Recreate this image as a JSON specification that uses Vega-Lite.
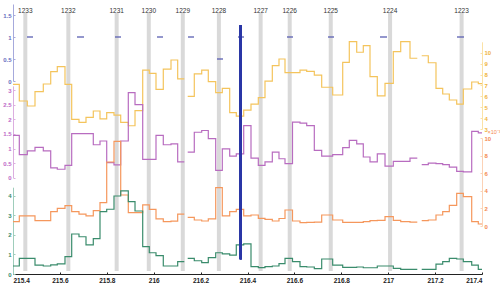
{
  "$schema": "https://vega.github.io/schema/vega-lite/v6.json",
  "width": 469,
  "height": 258,
  "autosize": "none",
  "padding": {"left": 13, "top": 13, "right": 18, "bottom": 15},
  "background": "white",
  "config": {
    "view": {"stroke": null},
    "font": "Liberation Sans",
    "axis": {"grid": false, "labelFont": "Liberation Sans", "labelFontSize": 6, "labelFontWeight": "bold", "tickSize": -2, "labelPadding": 4, "domainWidth": 1, "tickWidth": 1, "format": "~f", "title": null}
  },
  "datasets": {
    "series": [
      {"x": 215.4, "seg": 1, "yel": 7.10, "mag": 1.45, "ora": 0.49, "grn": 0.41},
      {"x": 215.4269, "seg": 1, "yel": 5.57, "mag": 0.79, "ora": 1.14, "grn": 0.80},
      {"x": 215.4610, "seg": 1, "yel": 5.11, "mag": 0.92, "ora": 1.14, "grn": 0.80},
      {"x": 215.4938, "seg": 1, "yel": 6.42, "mag": 1.04, "ora": 0.61, "grn": 0.46},
      {"x": 215.5292, "seg": 1, "yel": 7.13, "mag": 0.92, "ora": 0.61, "grn": 0.41},
      {"x": 215.5608, "seg": 1, "yel": 8.26, "mag": 0.34, "ora": 1.63, "grn": 0.47},
      {"x": 215.5889, "seg": 1, "yel": 8.72, "mag": 0.29, "ora": 2.00, "grn": 0.52},
      {"x": 215.6217, "seg": 1, "yel": 7.10, "mag": 0.42, "ora": 2.31, "grn": 0.89},
      {"x": 215.6503, "seg": 1, "yel": 3.89, "mag": 1.51, "ora": 1.63, "grn": 2.05},
      {"x": 215.6814, "seg": 1, "yel": 3.61, "mag": 1.51, "ora": 1.36, "grn": 1.91},
      {"x": 215.7113, "seg": 1, "yel": 4.07, "mag": 1.51, "ora": 1.14, "grn": 1.49},
      {"x": 215.7424, "seg": 1, "yel": 4.65, "mag": 1.13, "ora": 1.74, "grn": 1.81},
      {"x": 215.7710, "seg": 1, "yel": 3.92, "mag": 1.26, "ora": 2.65, "grn": 3.20},
      {"x": 215.7996, "seg": 1, "yel": 4.50, "mag": 0.52, "ora": 7.27, "grn": 3.32},
      {"x": 215.8307, "seg": 1, "yel": 4.28, "mag": 0.44, "ora": 9.62, "grn": 4.00},
      {"x": 215.8593, "seg": 1, "yel": 3.61, "mag": 1.26, "ora": 3.52, "grn": 4.26},
      {"x": 215.8917, "seg": 1, "yel": 3.30, "mag": 2.92, "ora": 1.51, "grn": 3.71},
      {"x": 215.9203, "seg": 1, "yel": 4.68, "mag": 2.51, "ora": 1.51, "grn": 3.23},
      {"x": 215.9531, "seg": 1, "yel": 8.41, "mag": 0.63, "ora": 2.39, "grn": 1.40},
      {"x": 215.9812, "seg": 1, "yel": 8.11, "mag": 0.63, "ora": 1.89, "grn": 1.09},
      {"x": 216.0098, "seg": 1, "yel": 6.64, "mag": 1.45, "ora": 0.80, "grn": 0.94},
      {"x": 216.0409, "seg": 1, "yel": 8.50, "mag": 1.13, "ora": 0.49, "grn": 0.41},
      {"x": 216.0738, "seg": 1, "yel": 9.33, "mag": 1.16, "ora": 0.55, "grn": 0.41},
      {"x": 216.1023, "seg": 1, "yel": 7.59, "mag": 0.54, "ora": 1.36, "grn": 0.63},
      {"x": 216.1305, "seg": 1, "yel": 7.59, "mag": 0.54, "ora": 1.36, "grn": 0.63},
      {"x": 216.1450, "seg": 2, "yel": 6.00, "mag": 0.88, "ora": 0.98, "grn": 0.80},
      {"x": 216.1731, "seg": 2, "yel": 8.05, "mag": 1.56, "ora": 0.68, "grn": 0.68},
      {"x": 216.2047, "seg": 2, "yel": 8.41, "mag": 1.62, "ora": 0.57, "grn": 0.58},
      {"x": 216.2328, "seg": 2, "yel": 7.34, "mag": 1.34, "ora": 0.80, "grn": 0.84},
      {"x": 216.2644, "seg": 2, "yel": 6.33, "mag": 0.25, "ora": 4.36, "grn": 1.09},
      {"x": 216.2925, "seg": 2, "yel": 6.73, "mag": 0.99, "ora": 1.14, "grn": 1.03},
      {"x": 216.3241, "seg": 2, "yel": 4.50, "mag": 0.74, "ora": 1.63, "grn": 0.97},
      {"x": 216.3522, "seg": 2, "yel": 4.19, "mag": 0.82, "ora": 1.89, "grn": 1.49},
      {"x": 216.3838, "seg": 2, "yel": 4.74, "mag": 1.79, "ora": 1.14, "grn": 1.54},
      {"x": 216.4149, "seg": 2, "yel": 5.29, "mag": 0.67, "ora": 1.25, "grn": 0.38},
      {"x": 216.4461, "seg": 2, "yel": 5.87, "mag": 0.42, "ora": 0.87, "grn": 0.33},
      {"x": 216.4746, "seg": 2, "yel": 7.40, "mag": 0.54, "ora": 0.75, "grn": 0.38},
      {"x": 216.5058, "seg": 2, "yel": 8.81, "mag": 0.88, "ora": 0.57, "grn": 0.41},
      {"x": 216.5343, "seg": 2, "yel": 9.42, "mag": 0.65, "ora": 0.85, "grn": 0.53},
      {"x": 216.5599, "seg": 2, "yel": 8.17, "mag": 0.48, "ora": 1.82, "grn": 0.80},
      {"x": 216.5919, "seg": 2, "yel": 8.17, "mag": 1.91, "ora": 0.57, "grn": 0.63},
      {"x": 216.6239, "seg": 2, "yel": 8.41, "mag": 1.87, "ora": 0.38, "grn": 0.38},
      {"x": 216.6525, "seg": 2, "yel": 8.29, "mag": 1.79, "ora": 0.42, "grn": 0.36},
      {"x": 216.6849, "seg": 2, "yel": 7.95, "mag": 0.94, "ora": 0.45, "grn": 0.28},
      {"x": 216.7164, "seg": 2, "yel": 6.83, "mag": 0.74, "ora": 1.25, "grn": 0.77},
      {"x": 216.7633, "seg": 2, "yel": 6.12, "mag": 0.79, "ora": 0.68, "grn": 0.46},
      {"x": 216.8060, "seg": 2, "yel": 9.12, "mag": 1.03, "ora": 0.42, "grn": 0.34},
      {"x": 216.8341, "seg": 2, "yel": 11.01, "mag": 1.28, "ora": 0.42, "grn": 0.34},
      {"x": 216.8657, "seg": 2, "yel": 10.04, "mag": 1.16, "ora": 0.42, "grn": 0.36},
      {"x": 216.8938, "seg": 2, "yel": 10.64, "mag": 0.71, "ora": 0.50, "grn": 0.32},
      {"x": 216.9224, "seg": 2, "yel": 7.80, "mag": 0.54, "ora": 0.61, "grn": 0.32},
      {"x": 216.9535, "seg": 2, "yel": 6.03, "mag": 0.82, "ora": 0.64, "grn": 0.41},
      {"x": 216.9864, "seg": 2, "yel": 7.19, "mag": 0.40, "ora": 1.06, "grn": 0.41},
      {"x": 217.0217, "seg": 2, "yel": 10.09, "mag": 0.56, "ora": 0.64, "grn": 0.29},
      {"x": 217.0533, "seg": 2, "yel": 11.01, "mag": 0.56, "ora": 0.50, "grn": 0.24},
      {"x": 217.0930, "seg": 2, "yel": 9.49, "mag": 0.67, "ora": 0.45, "grn": 0.24},
      {"x": 217.1241, "seg": 2, "yel": 9.49, "mag": 0.67, "ora": 0.45, "grn": 0.24},
      {"x": 217.1429, "seg": 3, "yel": 9.72, "mag": 0.45, "ora": 0.60, "grn": 0.24},
      {"x": 217.1710, "seg": 3, "yel": 9.08, "mag": 0.50, "ora": 0.68, "grn": 0.24},
      {"x": 217.2038, "seg": 3, "yel": 6.73, "mag": 0.48, "ora": 1.25, "grn": 0.51},
      {"x": 217.2324, "seg": 3, "yel": 6.21, "mag": 0.45, "ora": 1.63, "grn": 0.63},
      {"x": 217.2606, "seg": 3, "yel": 5.66, "mag": 0.36, "ora": 2.35, "grn": 0.80},
      {"x": 217.2921, "seg": 3, "yel": 5.29, "mag": 0.22, "ora": 3.71, "grn": 0.77},
      {"x": 217.3203, "seg": 3, "yel": 6.67, "mag": 0.20, "ora": 3.33, "grn": 0.63},
      {"x": 217.3561, "seg": 3, "yel": 7.31, "mag": 1.59, "ora": 0.49, "grn": 0.46},
      {"x": 217.3842, "seg": 3, "yel": 7.16, "mag": 1.54, "ora": 0.23, "grn": 0.24},
      {"x": 217.4, "seg": 3, "yel": 7.16, "mag": 1.54, "ora": 0.23, "grn": 0.24}
    ],
    "bands": [
      {"pos": 215.4525, "label": "1233"},
      {"pos": 215.636, "label": "1232"},
      {"pos": 215.842, "label": "1231"},
      {"pos": 215.979, "label": "1230"},
      {"pos": 216.124, "label": "1229"},
      {"pos": 216.278, "label": "1228"},
      {"pos": 216.456, "label": "1227"},
      {"pos": 216.58, "label": "1226"},
      {"pos": 216.755, "label": "1225"},
      {"pos": 217.008, "label": "1224"},
      {"pos": 217.313, "label": "1223"}
    ],
    "dashes": [
      {"x0": 215.4597, "x1": 215.4853, "v": 1},
      {"x0": 215.6729, "x1": 215.7028, "v": 1},
      {"x0": 215.835, "x1": 215.8606, "v": 1},
      {"x0": 216.0141, "x1": 216.0397, "v": 1},
      {"x0": 216.1463, "x1": 216.1719, "v": 1},
      {"x0": 216.2699, "x1": 216.2955, "v": 0.5},
      {"x0": 216.3595, "x1": 216.3851, "v": 1},
      {"x0": 216.5684, "x1": 216.594, "v": 1},
      {"x0": 216.7433, "x1": 216.7689, "v": 1},
      {"x0": 216.965, "x1": 216.9949, "v": 1},
      {"x0": 217.2934, "x1": 217.3232, "v": 1}
    ]
  },
  "layer": [
    {
      "data": {"name": "bands"},
      "layer": [
        {
          "mark": {"type": "rule", "color": "#d9d9d9", "strokeWidth": 4},
          "encoding": {
            "x": {"field": "pos", "type": "quantitative",
                  "scale": {"domain": [215.4, 217.4], "nice": false, "zero": false},
                  "axis": {"orient": "bottom", "offset": 3, "values": [215.4, 215.6, 215.8, 216, 216.2, 216.4, 216.6, 216.8, 217, 217.2, 217.4], "labelColor": "#222222", "domainColor": "#222222", "tickColor": "#222222", "labelFontSize": 6.5, "labelPadding": 5}}
          }
        },
        {
          "mark": {"type": "text", "y": 0, "baseline": "bottom", "dy": 1, "fontSize": 6.5, "color": "#333333", "font": "Liberation Sans"},
          "encoding": {
            "x": {"field": "pos", "type": "quantitative"},
            "text": {"field": "label"}
          }
        }
      ]
    },
    {
      "data": {"name": "series"},
      "mark": {"type": "line", "interpolate": "step-after", "color": "#f4c45c", "strokeWidth": 1.2},
      "encoding": {
        "x": {"field": "x", "type": "quantitative"},
        "y": {"field": "yel", "type": "quantitative",
              "scale": {"domain": [3, 11], "range": [116, 28.8], "nice": false, "zero": false},
              "axis": {"orient": "right", "values": [3, 4, 5, 6, 7, 8, 9, 10], "domainColor": "#fbe2a6", "tickColor": "#fbe2a6", "labelColor": "#f0b43c"}},
        "detail": {"field": "seg"}
      }
    },
    {
      "data": {"name": "series"},
      "mark": {"type": "line", "interpolate": "step-after", "color": "#b86cc0", "strokeWidth": 1.2},
      "encoding": {
        "x": {"field": "x", "type": "quantitative"},
        "y": {"field": "mag", "type": "quantitative",
              "scale": {"domain": [0, 3.15], "range": [164.7, 72.9], "nice": false, "zero": false},
              "axis": {"orient": "left", "values": [0, 0.5, 1, 1.5, 2, 2.5, 3], "domainColor": "#dcaee0", "tickColor": "#dcaee0", "labelColor": "#c06ac8"}},
        "detail": {"field": "seg"}
      }
    },
    {
      "data": {"name": "series"},
      "mark": {"type": "line", "interpolate": "step-after", "color": "#f5975c", "strokeWidth": 1.2},
      "encoding": {
        "x": {"field": "x", "type": "quantitative"},
        "y": {"field": "ora", "type": "quantitative",
              "scale": {"domain": [0, 10], "range": [213, 125], "nice": false, "zero": false},
              "axis": {"orient": "right", "values": [0, 2, 4, 6, 8, 10], "domainColor": "#fcd2b6", "tickColor": "#fcd2b6", "labelColor": "#f48a50",
                       "title": "×10⁻³", "titleAngle": 0, "titleAlign": "left", "titleBaseline": "bottom", "titleX": 5, "titleY": 121, "titleFontSize": 5.5, "titleFontWeight": "normal", "titleColor": "#f48a50", "titleFont": "Liberation Sans"}},
        "detail": {"field": "seg"}
      }
    },
    {
      "data": {"name": "series"},
      "mark": {"type": "line", "interpolate": "step-after", "color": "#3a8c6c", "strokeWidth": 1.2},
      "encoding": {
        "x": {"field": "x", "type": "quantitative"},
        "y": {"field": "grn", "type": "quantitative",
              "scale": {"domain": [0, 4.45], "range": [261, 174.2], "nice": false, "zero": false},
              "axis": {"orient": "left", "values": [0, 1, 2, 3, 4], "domainColor": "#9fcdbb", "tickColor": "#9fcdbb", "labelColor": "#3a8c6c"}},
        "detail": {"field": "seg"}
      }
    },
    {
      "data": {"name": "dashes"},
      "layer": [
        {
          "mark": {"type": "rule", "color": "#5a5fb2", "strokeWidth": 1.3},
          "encoding": {
            "x": {"field": "x0", "type": "quantitative"},
            "x2": {"field": "x1"},
            "y": {"field": "v", "type": "quantitative",
                  "scale": {"domain": [0, 1.75], "range": [68, -9], "nice": false, "zero": false},
                  "axis": {"orient": "left", "values": [0, 0.5, 1, 1.5], "domainColor": "#a6a9dc", "tickColor": "#a6a9dc", "labelColor": "#6a6fbf"}}
          }
        },
        {
          "mark": {"type": "rule", "color": "#2a36a6", "strokeWidth": 2},
          "encoding": {
            "x": {"datum": 216.371, "type": "quantitative"},
            "y": {"datum": 1.27, "type": "quantitative"},
            "y2": {"datum": -4.05}
          }
        }
      ]
    }
  ],
  "resolve": {"scale": {"y": "independent"}, "axis": {"y": "independent"}}
}
